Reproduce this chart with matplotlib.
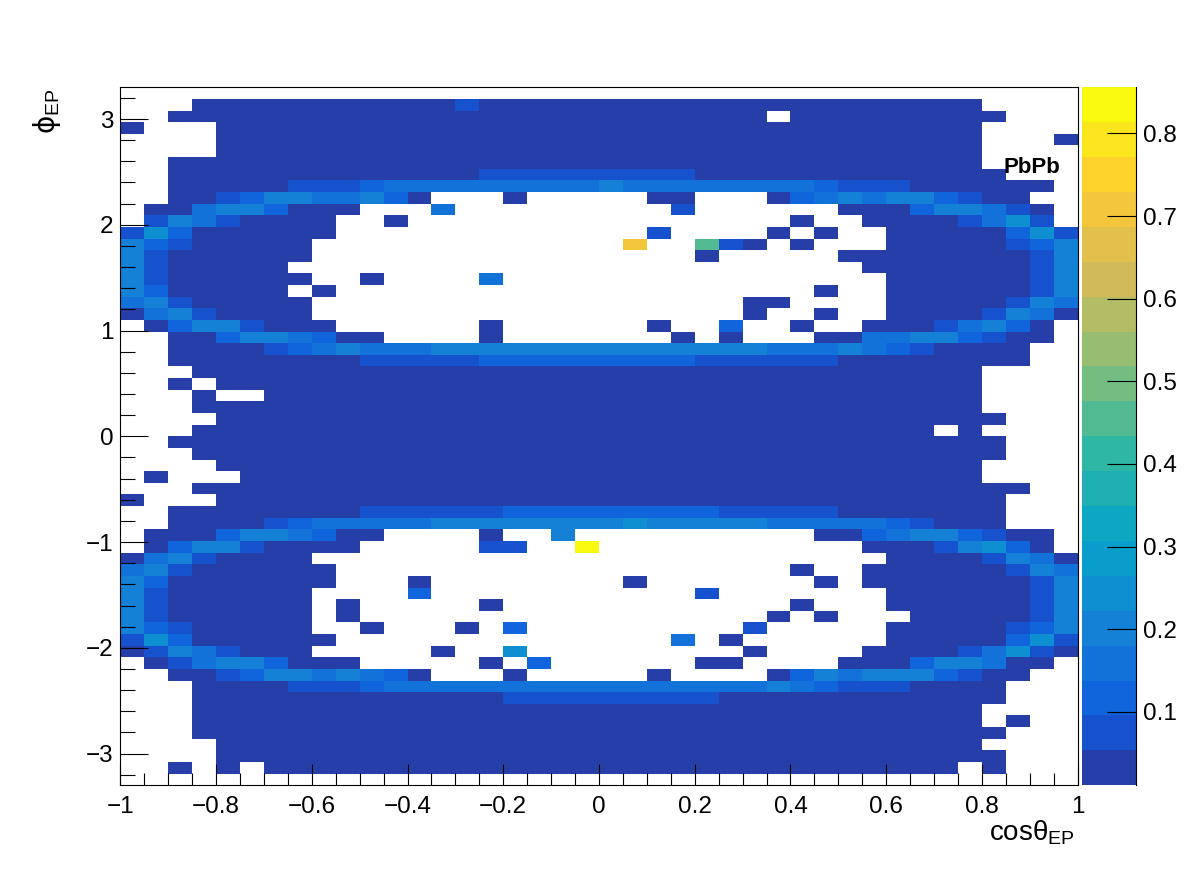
import numpy as np
import matplotlib
matplotlib.use('Agg')
import matplotlib.pyplot as plt
from matplotlib.colors import ListedColormap, BoundaryNorm
from matplotlib.ticker import MultipleLocator, FuncFormatter

plt.rcParams['font.family'] = ['Liberation Sans', 'DejaVu Sans']
plt.rcParams['mathtext.fontset'] = 'custom'
plt.rcParams['mathtext.rm'] = 'Liberation Sans'
plt.rcParams['mathtext.it'] = 'Liberation Sans:italic'
plt.rcParams['mathtext.bf'] = 'Liberation Sans:bold'

# histogram binning (cos theta_EP vs phi_EP)
x_edges = np.linspace(-1.0, 1.0, 41)
y_edges = np.linspace(-3.3, 3.3, 61)

# z range of the palette and number of colour contours
zmin, zmax = 0.0113, 0.8557
n_levels = 20

# colour band of each cell, top row (phi = 3.3) first.
# '.' = empty bin, '0'..'9','a'..'j' = contour band 0..19
rows = [
    ".......... .......... .......... ..........",
    "...0000000 0000100000 0000000000 000000....",
    "..00000000 0000000000 0000000.00 0000000...",
    "0...000000 0000000000 0000000000 000000....",
    "....000000 0000000000 0000000000 000000...0",
    "....000000 0000000000 0000000000 000000....",
    "..00000000 0000000000 0000000000 000000....",
    "..00000000 0000011111 1111000000 0000000...",
    "..00000111 2333333333 4333333332 111000000.",
    "..00124433 420...0... ..00...023 43442100..",
    ".003442000 ...3...... ...1...... 000244310.",
    ".14310000. .0........ ........0. .00001351.",
    "152000000. .......... ..1....0.0 ..00000251",
    "42100000.. .......... .g..a10.0. ..00000124",
    "41000000.. .......... ....0..... 0000000014",
    "4100000... .......... .......... .000000014",
    "41000000.. 0....3.... .......... ..00000014",
    "4200000.0. .......... .........0 ..00000014",
    "34100000.. .......... ......00.. ..00000143",
    "03410000.. .......... ......0..0 ..00001430",
    ".02441000. .....0.... ..0..2..0. .00013420.",
    "..00244320 0....0.... ...0.0...0 033442100.",
    "..00001234 3334444444 4444444333 43210000..",
    "..00000000 1111122222 2222111111 00000000..",
    "...0000000 0000000000 0000000000 000000....",
    "..0.000000 0000000000 0000000000 000000....",
    "...0..0000 0000000000 0000000000 000000....",
    "...0000000 0000000000 0000000000 000000....",
    "....000000 0000000000 0000000000 0000000...",
    "...0000000 0000000000 0000000000 0000.0....",
    "..00000000 0000000000 0000000000 0000000...",
    "...0000000 0000000000 0000000000 0000000...",
    "....000000 0000000000 0000000000 000000....",
    ".0...00000 0000000000 0000000000 000000....",
    "...0000000 0000000000 0000000000 00000000..",
    "0...000000 0000000000 0000000000 0000000...",
    "..00000000 1111112222 2222211111 0000000...",
    "..00001233 3334444444 4544444333 3321000...",
    ".000244320 0....0..4. .........0 023442100.",
    ".024410000 .....11..j .......... .00014520.",
    "03410000.. .......... .......... ..00001430",
    "341000000. .......... ........0. .000000143",
    "420000000. ..0....... .0.......0 .000000014",
    "41000000.. ..2....... ....1..... ..00000014",
    "41000000.0 .....0.... ........0. ..00000014",
    "41000000.0 .......... .......0.0 ...0000014",
    "42100000.. 0...0.2... ......1... ..00000124",
    "152000000. .......... ...3.0.... ..00000251",
    "01431000.. ...0..5... ......0... .000013510",
    ".013442000 .....0.2.. ....00.... 000244300.",
    "..00124434 320...0... ..0....024 34442100..",
    "...0000111 2333333333 3333333432 1110000...",
    "...0000000 0000001111 1111100000 0000000...",
    "...0000000 0000000000 0000000000 000000....",
    "...0000000 0000000000 0000000000 000000.0..",
    "...0000000 0000000000 0000000000 0000000...",
    "....000000 0000000000 0000000000 000000....",
    "....000000 0000000000 0000000000 0000000...",
    "..0.0.0000 0000000000 0000000000 00000.0...",
    ".......... .......... .......... ..........",
]

band_codes = '0123456789abcdefghij'
dz = (zmax - zmin) / n_levels

z = np.full((len(y_edges) - 1, len(x_edges) - 1), np.nan)
for i, row in enumerate(rows):
    row = row.replace(' ', '')
    for j, ch in enumerate(row):
        if ch != '.':
            k = band_codes.index(ch)
            z[len(rows) - 1 - i, j] = zmin + (k + 0.5) * dz
z = np.ma.masked_invalid(z)

# ROOT kBird palette (255 colours), picked the way COLZ picks contour colours
stops = [0.0, 0.125, 0.25, 0.375, 0.5, 0.625, 0.75, 0.875, 1.0]
red = [0.2082, 0.0592, 0.0780, 0.0232, 0.1802, 0.5301, 0.8186, 0.9956, 0.9764]
green = [0.1664, 0.3599, 0.5041, 0.6419, 0.7178, 0.7492, 0.7328, 0.7862, 0.9832]
blue = [0.5293, 0.8684, 0.8385, 0.7914, 0.6425, 0.4662, 0.3499, 0.1968, 0.0539]


def bird(i, ncol=255):
    edges = [int(np.floor(ncol * s)) for s in stops]
    for g in range(1, len(stops)):
        if i < edges[g] or g == len(stops) - 1:
            f = (i - edges[g - 1]) / (edges[g] - edges[g - 1])
            return tuple(c[g - 1] + (c[g] - c[g - 1]) * f for c in (red, green, blue))


band_colors = [bird(int((k + 0.99) * 255 / n_levels)) for k in range(n_levels)]
cmap = ListedColormap(band_colors)
levels = np.linspace(zmin, zmax, n_levels + 1)
norm = BoundaryNorm(levels, n_levels)

W, H = 1196, 872
fig = plt.figure(figsize=(W / 100, H / 100), dpi=100)
ax = fig.add_axes([120.3 / W, 1 - 785.3 / H, 957.4 / W, 698 / H])
mesh = ax.pcolormesh(x_edges, y_edges, z, cmap=cmap, norm=norm)
ax.set_xlim(-1, 1)
ax.set_ylim(-3.3, 3.3)


def root_fmt(v, pos):
    if abs(v) < 1e-9:
        return '0'
    return ('%g' % round(v, 6)).replace('-', '\u2212')


ax.xaxis.set_major_locator(MultipleLocator(0.2))
ax.xaxis.set_minor_locator(MultipleLocator(0.05))
ax.yaxis.set_major_locator(MultipleLocator(1))
ax.yaxis.set_minor_locator(MultipleLocator(0.2))
ax.xaxis.set_major_formatter(FuncFormatter(root_fmt))
ax.yaxis.set_major_formatter(FuncFormatter(root_fmt))
ax.tick_params(which='both', direction='in', top=False, right=False, width=0.8)
ax.tick_params(axis='x', which='major', length=15, labelsize=17.5, pad=8)
ax.tick_params(axis='x', which='minor', length=8.4)
ax.tick_params(axis='y', which='major', length=20, labelsize=17.5, pad=5)
ax.tick_params(axis='y', which='minor', length=10.6)
for s in ax.spines.values():
    s.set_linewidth(0.8)

# palette axis
cax = fig.add_axes([1082 / W, 1 - 785.3 / H, 54 / W, 698 / H])
cb = fig.colorbar(mesh, cax=cax, ticks=[0.1, 0.2, 0.3, 0.4, 0.5, 0.6, 0.7, 0.8],
                  spacing='proportional')
cb.outline.set_visible(False)
cax.minorticks_off()
cax.yaxis.set_major_formatter(FuncFormatter(lambda v, p: '%.1f' % v))
cax.tick_params(direction='in', length=21, width=0.8, labelsize=17.5, pad=5)
cax.plot([1, 1], [0, 1], transform=cax.transAxes, color='black', lw=0.8, clip_on=False)

ax.text(0.845, 2.49, 'PbPb', fontsize=16, fontweight='bold', ha='left', va='baseline')

fig.text(1075 / W, 1 - 840 / H, 'cos\u03b8$_{\\mathrm{EP}}$', ha='right', va='baseline', fontsize=20)
fig.text(47 / W, 1 - 88 / H, '\u03d5$_{\\mathrm{EP}}$', rotation=90, ha='center', va='top',
         fontsize=20, family=['DejaVu Sans'])

fig.savefig('out.png', dpi=100)
